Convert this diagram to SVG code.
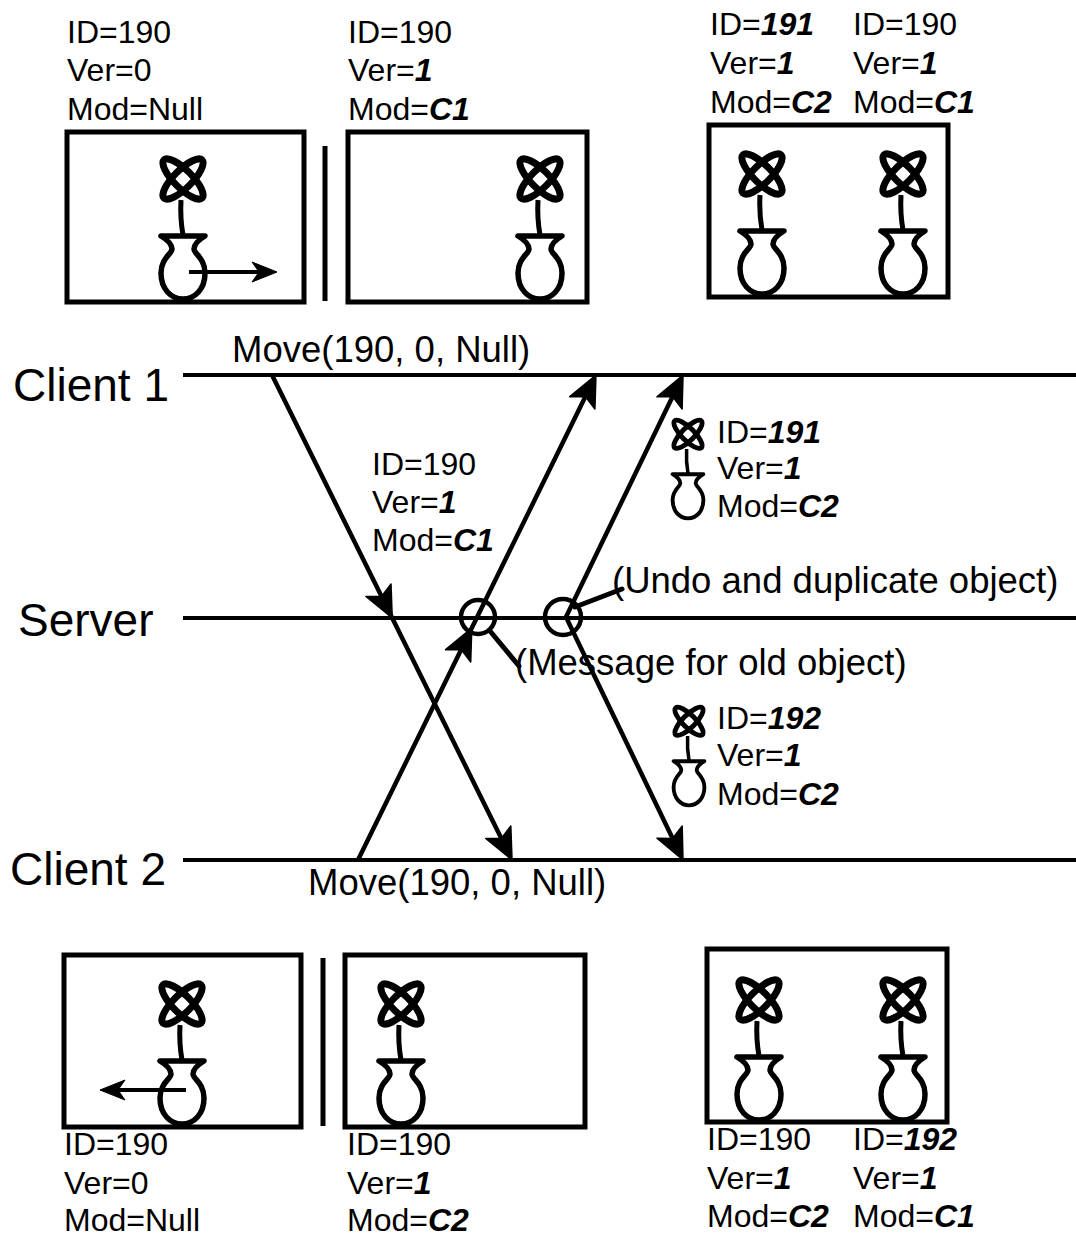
<svg xmlns="http://www.w3.org/2000/svg" xmlns:xlink="http://www.w3.org/1999/xlink" width="1076" height="1239" viewBox="0 0 1076 1239">
  <style>
    text { font-family: "Liberation Sans", Arial, sans-serif; fill: #000; }
    .lbl { font-size: 32px; }
    .seq { font-size: 36.5px; }
    .big { font-size: 46px; }
    .bi { font-weight: bold; font-style: italic; }
    .frame { fill: #fff; stroke: #000; stroke-width: 5; }
    .bar { stroke: #000; stroke-width: 5; }
    .lane { stroke: #000; stroke-width: 4; }
    .msg { fill: none; stroke: #000; stroke-width: 4.5; marker-mid: url(#head); marker-end: url(#head); }
    .msg1 { fill: none; stroke: #000; stroke-width: 4.5; marker-end: url(#head); }
    .move { fill: none; stroke: #000; stroke-width: 4; marker-end: url(#small); }
    .ring { fill: none; stroke: #000; stroke-width: 4.5; }
    .lead { stroke: #000; stroke-width: 5; stroke-linecap: round; }
  </style>
  <defs>
    <marker id="head" viewBox="-34 -16 36 32" refX="-12" refY="0" markerWidth="36" markerHeight="32" markerUnits="userSpaceOnUse" orient="auto">
      <path d="M0,0 L-31,-14 L-24,0 L-31,14 Z" fill="#000" stroke="#000" stroke-width="1.5" stroke-linejoin="round"/>
    </marker>
    <marker id="small" viewBox="-28 -12 30 24" refX="-10" refY="0" markerWidth="30" markerHeight="24" markerUnits="userSpaceOnUse" orient="auto">
      <path d="M0,0 L-25,-10 L-18,0 L-25,10 Z" fill="#000" stroke="#000" stroke-width="1" stroke-linejoin="round"/>
    </marker>
    <!-- flower in a vase, origin at the bottom centre of the vase -->
    <g id="plant" fill="none" stroke="#000" stroke-linejoin="round">
      <ellipse cx="0" cy="-121" rx="27" ry="9" stroke-width="7" transform="rotate(45 0 -121)"/>
      <ellipse cx="0" cy="-121" rx="27" ry="9" stroke-width="7" transform="rotate(-45 0 -121)"/>
      <path d="M-2,-100 Q-3,-82 0,-65" stroke-width="5"/>
      <path d="M-22,-64 H22 C17,-61 11,-57 11,-51 C11,-46 22,-42 22,-27 C22,-11 12,-1 0,-1 C-12,-1 -22,-11 -22,-27 C-22,-42 -11,-46 -11,-51 C-11,-57 -17,-61 -22,-64 Z" fill="#fff" stroke-width="5.5"/>
    </g>
  </defs>

  <rect width="1076" height="1239" fill="#fff"/>

  <!-- lanes -->
  <g id="lanes">
    <line class="lane" x1="183" y1="375" x2="1076" y2="375"/>
    <line class="lane" x1="183" y1="618" x2="1076" y2="618"/>
    <line class="lane" x1="183" y1="860" x2="1076" y2="860"/>
    <text class="big" x="13" y="401">Client 1</text>
    <text class="big" x="18" y="636">Server</text>
    <text class="big" x="10" y="885">Client 2</text>
  </g>

  <!-- client 1 view before the move -->
  <g id="c1-before">
    <text class="lbl" x="67" y="43">ID=190</text>
    <text class="lbl" x="67" y="81">Ver=0</text>
    <text class="lbl" x="67" y="120">Mod=Null</text>
    <rect class="frame" x="67" y="132" width="237" height="170"/>
    <use xlink:href="#plant" href="#plant" transform="translate(183,300)"/>
    <line class="move" x1="189" y1="272" x2="267" y2="272"/>
  </g>
  <line id="c1-bar" class="bar" x1="325" y1="146" x2="325" y2="301"/>

  <!-- client 1 view after its own move -->
  <g id="c1-after">
    <text class="lbl" x="348" y="43">ID=190</text>
    <text class="lbl" x="348" y="81">Ver=<tspan class="bi">1</tspan></text>
    <text class="lbl" x="348" y="120">Mod=<tspan class="bi">C1</tspan></text>
    <rect class="frame" x="348" y="132" width="239" height="170"/>
    <use xlink:href="#plant" href="#plant" transform="translate(540,300)"/>
  </g>

  <!-- client 1 final view -->
  <g id="c1-final">
    <text class="lbl" x="710" y="35">ID=<tspan class="bi">191</tspan></text>
    <text class="lbl" x="710" y="74">Ver=<tspan class="bi">1</tspan></text>
    <text class="lbl" x="710" y="113">Mod=<tspan class="bi">C2</tspan></text>
    <text class="lbl" x="853" y="35">ID=190</text>
    <text class="lbl" x="853" y="74">Ver=<tspan class="bi">1</tspan></text>
    <text class="lbl" x="853" y="113">Mod=<tspan class="bi">C1</tspan></text>
    <rect class="frame" x="709" y="125" width="239" height="172"/>
    <use xlink:href="#plant" href="#plant" transform="translate(762,295)"/>
    <use xlink:href="#plant" href="#plant" transform="translate(903,295)"/>
  </g>

  <!-- client 2 view before the move -->
  <g id="c2-before">
    <rect class="frame" x="64" y="955" width="237" height="172"/>
    <use xlink:href="#plant" href="#plant" transform="translate(182,1125)"/>
    <line class="move" x1="186" y1="1090" x2="110" y2="1090"/>
    <text class="lbl" x="64" y="1155">ID=190</text>
    <text class="lbl" x="64" y="1194">Ver=0</text>
    <text class="lbl" x="64" y="1231">Mod=Null</text>
  </g>
  <line id="c2-bar" class="bar" x1="323" y1="958" x2="323" y2="1126"/>

  <!-- client 2 view after its own move -->
  <g id="c2-after">
    <rect class="frame" x="345" y="955" width="240" height="172"/>
    <use xlink:href="#plant" href="#plant" transform="translate(401,1125)"/>
    <text class="lbl" x="347" y="1155">ID=190</text>
    <text class="lbl" x="347" y="1194">Ver=<tspan class="bi">1</tspan></text>
    <text class="lbl" x="347" y="1231">Mod=<tspan class="bi">C2</tspan></text>
  </g>

  <!-- client 2 final view -->
  <g id="c2-final">
    <rect class="frame" x="707" y="949" width="240" height="173"/>
    <use xlink:href="#plant" href="#plant" transform="translate(759,1121)"/>
    <use xlink:href="#plant" href="#plant" transform="translate(903,1121)"/>
    <text class="lbl" x="707" y="1150">ID=190</text>
    <text class="lbl" x="707" y="1189">Ver=<tspan class="bi">1</tspan></text>
    <text class="lbl" x="707" y="1227">Mod=<tspan class="bi">C2</tspan></text>
    <text class="lbl" x="853" y="1150">ID=<tspan class="bi">192</tspan></text>
    <text class="lbl" x="853" y="1189">Ver=<tspan class="bi">1</tspan></text>
    <text class="lbl" x="853" y="1227">Mod=<tspan class="bi">C1</tspan></text>
  </g>

  <!-- message carried from client 1 -->
  <g id="msg-c1">
    <text class="lbl" x="372" y="475">ID=190</text>
    <text class="lbl" x="372" y="513">Ver=<tspan class="bi">1</tspan></text>
    <text class="lbl" x="372" y="551">Mod=<tspan class="bi">C1</tspan></text>
  </g>

  <!-- duplicated object sent to client 1 -->
  <g id="dup-191">
    <use xlink:href="#plant" href="#plant" transform="translate(688,519) scale(0.7)"/>
    <text class="lbl" x="717" y="443">ID=<tspan class="bi">191</tspan></text>
    <text class="lbl" x="717" y="479">Ver=<tspan class="bi">1</tspan></text>
    <text class="lbl" x="717" y="517">Mod=<tspan class="bi">C2</tspan></text>
  </g>

  <!-- duplicated object sent to client 2 -->
  <g id="dup-192">
    <use xlink:href="#plant" href="#plant" transform="translate(689,806) scale(0.7)"/>
    <text class="lbl" x="717" y="729">ID=<tspan class="bi">192</tspan></text>
    <text class="lbl" x="717" y="766">Ver=<tspan class="bi">1</tspan></text>
    <text class="lbl" x="717" y="805">Mod=<tspan class="bi">C2</tspan></text>
  </g>

  <!-- server events -->
  <g id="old-msg">
    <circle class="ring" cx="478" cy="617" r="17"/>
    <line class="lead" x1="490" y1="631" x2="519" y2="666"/>
    <text class="seq" x="515" y="675">(Message for old object)</text>
  </g>
  <g id="undo-dup">
    <circle class="ring" cx="563" cy="617" r="18"/>
    <line class="lead" x1="575" y1="607" x2="622" y2="589"/>
    <text class="seq" x="612" y="593">(Undo and duplicate object)</text>
  </g>

  <!-- move requests -->
  <text id="move-c1" class="seq" x="232" y="362">Move(190, 0, Null)</text>
  <text id="move-c2" class="seq" x="308" y="895">Move(190, 0, Null)</text>

  <!-- messages between clients and server -->
  <g id="connectors">
    <path class="msg" d="M272,375 L386.9,607.2 L506.7,849.2"/>
    <path class="msg" d="M358,860 L466.5,638.8 L590.7,385.8"/>
    <path class="msg1" d="M566,617 L677.8,385.8"/>
    <path class="msg1" d="M566,617 L677.8,849.2"/>
  </g>
</svg>
